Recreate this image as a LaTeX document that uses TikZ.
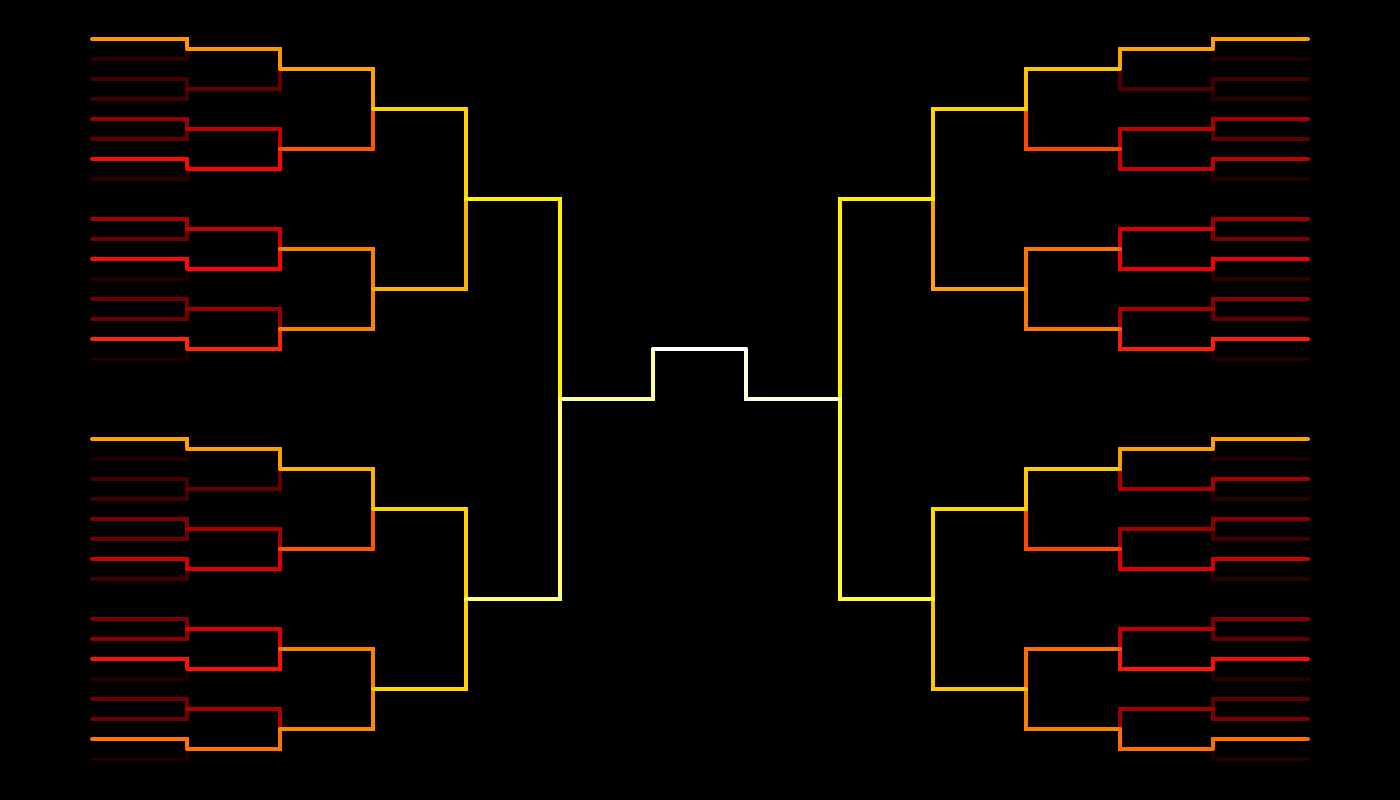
\documentclass[tikz,border=0pt]{standalone}
\tikzset{
  slot/.style={line width=0.04cm, line cap=round, line join=miter},
}
% hot colour scale: 0 black, 0.365 red, 0.73 yellow, 1 white
\newcommand\heatcolor[1]{%
  \pgfmathsetmacro\heatr{min(1,#1/0.365)}%
  \pgfmathsetmacro\heatg{min(1,max(0,(#1-0.365)/0.365))}%
  \pgfmathsetmacro\heatb{min(1,max(0,(#1-0.73)/0.27))}%
  \definecolor{heat}{rgb}{\heatr,\heatg,\heatb}}
% one match, left half: x from, x to, top y, gap, top value, bottom value
\newcommand\matchL[6]{%
  \heatcolor{#5}\draw[slot,heat] (#1,#3) -- (#2,#3) -- (#2,#3+#4/2);
  \heatcolor{#6}\draw[slot,heat] (#1,#3+#4) -- (#2,#3+#4) -- (#2,#3+#4/2);}
% one match, right half: inner x, outer x, top y, gap, top value, bottom value
\newcommand\matchR[6]{%
  \heatcolor{#5}\draw[slot,heat] (#2,#3) -- (#1,#3) -- (#1,#3+#4/2);
  \heatcolor{#6}\draw[slot,heat] (#2,#3+#4) -- (#1,#3+#4) -- (#1,#3+#4/2);}
\begin{document}
\begin{tikzpicture}[x=0.01cm,y=-0.01cm]
\fill[black] (0,0) rectangle (1400,800);

% left half
\foreach \y/\a/\b in {39/0.58/0.07, 79/0.10/0.10, 119/0.22/0.14, 159/0.38/0.06,
  219/0.24/0.16, 259/0.38/0.05, 299/0.16/0.16, 339/0.42/0.045,
  439/0.59/0.05, 479/0.10/0.10, 519/0.18/0.16, 559/0.30/0.10,
  619/0.18/0.20, 659/0.39/0.05, 699/0.16/0.16, 739/0.53/0.045}
  {\matchL{92}{187}{\y}{20}{\a}{\b}}
\foreach \y/\a/\b in {49/0.58/0.15, 129/0.28/0.37, 229/0.29/0.37, 309/0.22/0.42,
  449/0.59/0.15, 529/0.25/0.32, 629/0.32/0.39, 709/0.25/0.53}
  {\matchL{187}{280}{\y}{40}{\a}{\b}}
\foreach \y/\a/\b in {69/0.60/0.49, 249/0.55/0.55, 469/0.62/0.49, 649/0.55/0.56}
  {\matchL{280}{373}{\y}{80}{\a}{\b}}
\foreach \y/\a/\b in {109/0.665/0.62, 509/0.67/0.67}
  {\matchL{373}{466}{\y}{180}{\a}{\b}}
\matchL{466}{560}{199}{400}{0.71}{0.85}

% right half
\foreach \y/\a/\b in {39/0.59/0.05, 79/0.09/0.06, 119/0.24/0.14, 159/0.27/0.05,
  219/0.23/0.17, 259/0.35/0.07, 299/0.20/0.14, 339/0.41/0.05,
  439/0.59/0.05, 479/0.24/0.06, 519/0.20/0.10, 559/0.30/0.06,
  619/0.19/0.14, 659/0.38/0.06, 699/0.13/0.18, 739/0.52/0.05}
  {\matchR{1213}{1308}{\y}{20}{\a}{\b}}
\foreach \y/\a/\b in {49/0.60/0.11, 129/0.28/0.29, 229/0.31/0.35, 309/0.25/0.41,
  449/0.59/0.25, 529/0.23/0.32, 629/0.28/0.40, 709/0.23/0.52}
  {\matchR{1120}{1213}{\y}{40}{\a}{\b}}
\foreach \y/\a/\b in {69/0.64/0.47, 249/0.53/0.54, 469/0.65/0.47, 649/0.52/0.55}
  {\matchR{1026}{1120}{\y}{80}{\a}{\b}}
\foreach \y/\a/\b in {109/0.67/0.60, 509/0.68/0.65}
  {\matchR{933}{1026}{\y}{180}{\a}{\b}}
\matchR{840}{933}{199}{400}{0.71}{0.79}

% final
\heatcolor{0.89}\draw[slot,heat] (560,399) -- (653,399) -- (653,349);
\heatcolor{0.96}\draw[slot,heat] (840,399) -- (746,399) -- (746,349);
\heatcolor{1}\draw[slot,heat] (653,349) -- (746,349);
\end{tikzpicture}
\end{document}
